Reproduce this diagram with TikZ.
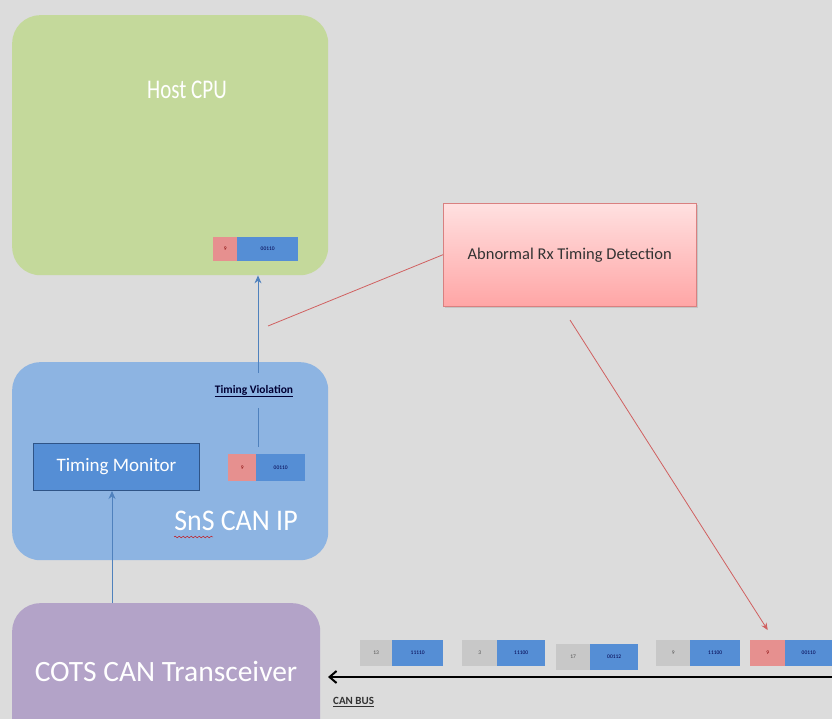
\documentclass[tikz,border=0pt]{standalone}
\usepackage{fontspec}
\setmainfont{Carlito}
\usetikzlibrary{arrows.meta,shadows,decorations.pathmorphing}
\definecolor{bg}{HTML}{DCDCDC}
\definecolor{hostgreen}{HTML}{C4D99B}
\definecolor{snsblue}{HTML}{8DB4E2}
\definecolor{tmblue}{HTML}{558ED5}
\definecolor{tmborder}{HTML}{2F5487}
\definecolor{cotspurple}{HTML}{B3A3C8}
\definecolor{fpink}{HTML}{E6908F}
\definecolor{fblue}{HTML}{558ED5}
\definecolor{fgray}{HTML}{C8C8C8}
\definecolor{redline}{HTML}{D06060}
\definecolor{arrowblue}{HTML}{4F81BD}
\tikzset{
  bigbox/.style={rounded corners=28pt, anchor=north west, inner sep=0pt, draw=none},
  idcell/.style={anchor=north west, inner sep=0pt, minimum height=26pt, font=\fontsize{5.5}{6}\selectfont, text=black!70},
  pinkcell/.style={idcell, fill=fpink, text=red!50!black},
  datacell/.style={anchor=north west, inner sep=0pt, minimum height=26pt, fill=fblue, font=\fontsize{5.5}{6}\selectfont, text=blue!30!black},
  bluearrow/.style={draw=arrowblue, line width=1pt, -{Stealth[length=8pt,width=7pt]}},
  redconn/.style={draw=redline, line width=0.8pt},
}
\begin{document}
\begin{tikzpicture}[x=1pt,y=-1pt]
\fill[bg] (0,0) rectangle (832,719);
\useasboundingbox (0,0) rectangle (832,719);

% Host CPU
\node[bigbox, fill=hostgreen, minimum width=316pt, minimum height=260pt] (host) at (12,15) {};
\node[text=white, font=\fontsize{27}{30}\selectfont] (hosttitle) at (187,90) {\scalebox{0.78}[1]{Host CPU}};
\node[pinkcell, minimum width=24pt, minimum height=24pt] (h1) at (213,237) {9};
\node[datacell, minimum width=61pt, minimum height=24pt] (h2) at (237,237) {00110};

% SnS CAN IP
\node[bigbox, fill=snsblue, minimum width=316pt, minimum height=198pt] (sns) at (12,362) {};
\node[text=white, font=\fontsize{30}{34}\selectfont] (snstitle) at (236,521) {\scalebox{0.93}[1]{SnS CAN IP}};
\draw[red!80!black, decorate, decoration={snake,amplitude=0.8pt,segment length=4pt}] (174,537) -- (213,537);
\node[anchor=north west, fill=tmblue, draw=tmborder, line width=1pt, minimum width=166pt, minimum height=47pt, inner sep=0pt, text=white, font=\fontsize{19}{22}\selectfont] (tm) at (33,443) {Timing\ Monitor};
\node[pinkcell, minimum width=28pt, minimum height=27pt] (s1) at (228,454) {9};
\node[datacell, minimum width=49pt, minimum height=27pt] (s2) at (256,454) {00110};
\node[font=\fontsize{11.5}{13}\selectfont\bfseries, text=blue!20!black, inner sep=1pt] (tv) at (254,391) {\underline{Timing Violation}};
\coordinate (tvlow) at (258,408);
\coordinate (tvhigh) at (258,373);
\coordinate (framelinetop) at (258,447);

% COTS
\node[bigbox, fill=cotspurple, minimum width=308pt, minimum height=150pt] (cots) at (12,603) {};
\node[text=white, font=\fontsize{29.5}{34}\selectfont] (cotstitle) at (166,671) {COTS CAN Transceiver};

% Abnormal box
\node[anchor=north west, minimum width=253pt, minimum height=103pt, inner sep=0pt, draw=redline!80, top color=red!12, bottom color=red!35, drop shadow={opacity=0.25,shadow xshift=2pt,shadow yshift=-2pt}, font=\fontsize{16.5}{19}\selectfont, text=black!80] (abn) at (443,203) {Abnormal Rx Timing Detection};

% Bus frames
\node[idcell, fill=fgray, minimum width=32pt] (b1a) at (360,640) {13};
\node[datacell, minimum width=51pt] (b1b) at (392,640) {11110};
\node[idcell, fill=fgray, minimum width=35pt] (b2a) at (462,640) {3};
\node[datacell, minimum width=48pt] (b2b) at (497,640) {11100};
\node[idcell, fill=fgray, minimum width=34pt] (b3a) at (556,644) {17};
\node[datacell, minimum width=48pt] (b3b) at (590,644) {00112};
\node[idcell, fill=fgray, minimum width=34pt] (b4a) at (656,640) {9};
\node[datacell, minimum width=50pt] (b4b) at (690,640) {11100};
\node[pinkcell, minimum width=35pt] (b5a) at (750,640) {9};
\node[datacell, minimum width=47pt] (b5b) at (785,640) {00110};

% CAN bus
\coordinate (busR) at (832,677);
\coordinate (busL) at (328,677);
\draw[line width=2pt, black, -{Straight Barb[length=7pt,width=12pt]}] (busR) -- (busL);
\node[font=\fontsize{11}{12}\selectfont\bfseries, text=black!80, anchor=west, inner sep=0pt] (canbus) at (333,702) {\underline{CAN BUS}};

% Arrows
\draw[bluearrow] (tvhigh) -- (host.south -| tvhigh);
\draw[draw=arrowblue, line width=1pt] (framelinetop) -- (tvlow);
\draw[bluearrow] (cots.north -| 112,0) -- (tm.south -| 112,0);

% Red connectors
\coordinate (redstart) at (268,326);
\draw[redconn] (redstart) -- (abn.west);
\coordinate (redarrowstart) at (570,320);
\draw[redconn, -{Stealth[length=7pt,width=6pt]}] (redarrowstart) -- ([yshift=10pt]b5a.north);
\end{tikzpicture}
\end{document}
